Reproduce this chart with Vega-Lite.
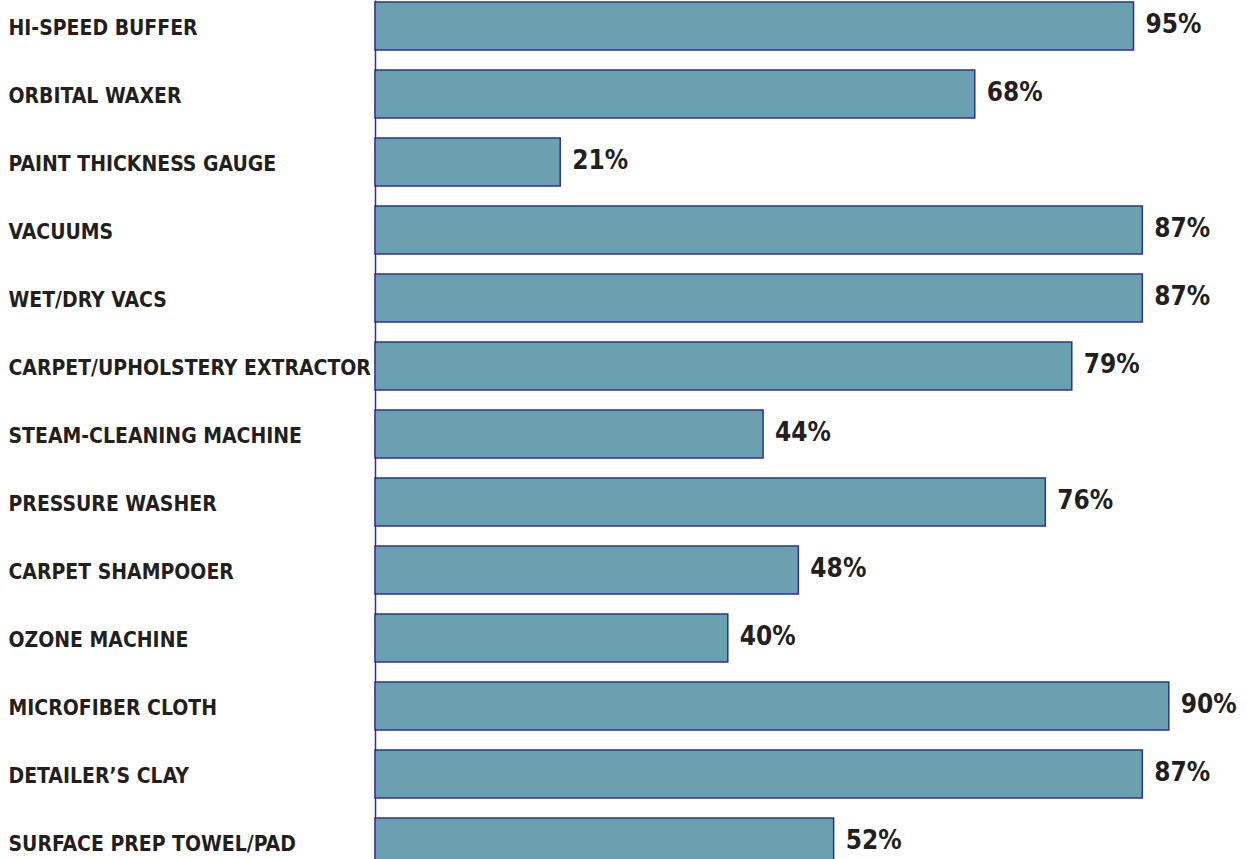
{
  "$schema": "https://vega.github.io/schema/vega-lite/v6.json",
  "autosize": "none",
  "padding": {"left": 375, "top": 0, "right": 0, "bottom": 0},
  "width": 882,
  "height": {"step": 68},
  "background": "white",
  "config": {"view": {"stroke": null}},
  "data": {"values": [
    {"item": "HI-SPEED BUFFER", "value": 86, "label": "95%"},
    {"item": "ORBITAL WAXER", "value": 68, "label": "68%"},
    {"item": "\u2007PAINT THICKNESS GAUGE", "value": 21, "label": "21%"},
    {"item": "VACUUMS", "value": 87, "label": "87%"},
    {"item": "WET/DRY VACS", "value": 87, "label": "87%"},
    {"item": "CARPET/UPHOLSTERY EXTRACTOR", "value": 79, "label": "79%"},
    {"item": "STEAM-CLEANING MACHINE", "value": 44, "label": "44%"},
    {"item": "PRESSURE WASHER", "value": 76, "label": "76%"},
    {"item": "CARPET SHAMPOOER", "value": 48, "label": "48%"},
    {"item": "OZONE MACHINE", "value": 40, "label": "40%"},
    {"item": "MICROFIBER CLOTH", "value": 90, "label": "90%"},
    {"item": "DETAILER\u2019S CLAY", "value": 87, "label": "87%"},
    {"item": "SURFACE PREP TOWEL/PAD", "value": 52, "label": "52%"}
  ]},
  "encoding": {
    "y": {
      "field": "item", "type": "nominal", "sort": null,
      "scale": {"paddingInner": 0.294, "paddingOuter": 0.03},
      "axis": {
        "title": null, "ticks": false, "tickSize": 0, "grid": false,
        "domain": true, "domainColor": "#2e3192", "domainWidth": 1.5,
        "labelAlign": "left", "labelPadding": 367, "labelLimit": 0, "labelOffset": 3,
        "labelFont": "DejaVu Sans Condensed, Roboto Condensed, Liberation Sans Narrow, sans-serif", "labelFontWeight": "bold",
        "labelFontSize": 21, "labelColor": "#231f20", "labelBaseline": "middle"
      }
    },
    "x": {"field": "value", "type": "quantitative", "scale": {"domain": [0, 100]}, "axis": null}
  },
  "layer": [
    {"mark": {"type": "bar", "fill": "#6aa0b0", "stroke": "#2e3192", "strokeWidth": 1.5}},
    {"mark": {"type": "text", "align": "left", "baseline": "middle", "dx": 12, "dy": -1,
              "font": "DejaVu Sans Condensed, Roboto Condensed, Liberation Sans Narrow, sans-serif", "fontWeight": "bold", "fontSize": 26, "fill": "#231f20"},
     "encoding": {"text": {"field": "label"}}}
  ]
}
